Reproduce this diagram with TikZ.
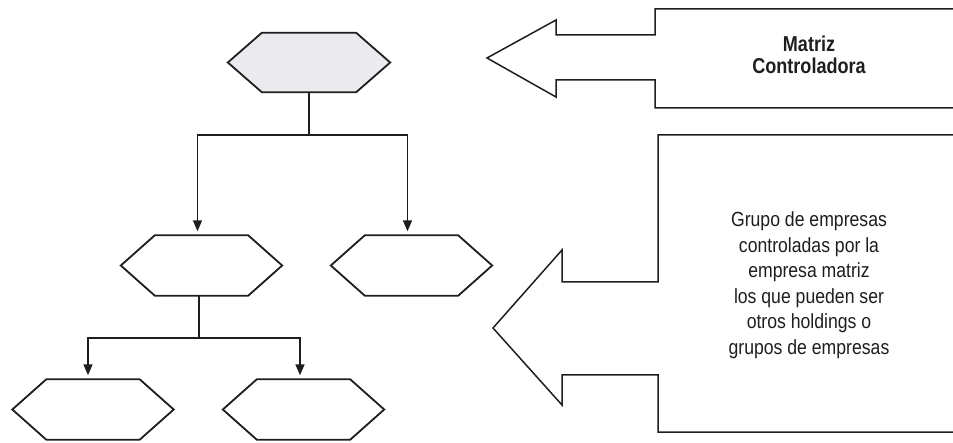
\documentclass[tikz,border=0pt]{standalone}
\usepackage{fontspec}
\setmainfont{Liberation Sans}
\newfontfamily\topfont[FakeStretch=0.84]{Liberation Sans}
\newfontfamily\bodyfont[FakeStretch=0.86]{Liberation Sans}
\usetikzlibrary{arrows.meta}
\definecolor{ink}{HTML}{1E1E1E}
\definecolor{hexfill}{HTML}{EBEBEF}
\tikzset{
  hexnode/.style={rectangle, minimum width=161pt, minimum height=60pt, inner sep=0pt, draw=none},
  hexline/.style={draw=ink, line width=1.8pt, line join=miter},
  conn/.style={draw=ink, line width=1.6pt},
  arrowconn/.style={conn, -{Triangle[width=9pt,length=11pt]}, shorten >=4pt},
  bigarrow/.style={draw=ink, line width=1.5pt, line join=miter},
  toptext/.style={align=center, text=ink, font=\topfont\bfseries\fontsize{21.5}{22}\selectfont, inner sep=0pt},
  bodytext/.style={align=center, text=ink, font=\bodyfont\fontsize{20.5}{25.5}\selectfont, inner sep=0pt}
}
\begin{document}
\begin{tikzpicture}[x=1pt, y=-1pt]
\useasboundingbox (0,0) rectangle (953,443);
% hexagon nodes
\node[hexnode, minimum width=162pt, minimum height=59pt] (top) at (309,62.5) {};
\node[hexnode] (ml) at (201.5,265.5) {};
\node[hexnode] (mr) at (411.5,265.5) {};
\node[hexnode] (bl) at (93,409.5) {};
\node[hexnode] (br) at (303.5,409.5) {};
\foreach \n/\f in {top/hexfill, ml/white, mr/white, bl/white, br/white}{
  \draw[hexline, fill=\f] (\n.west) -- ([xshift=34pt]\n.north west) -- ([xshift=-34pt]\n.north east) -- (\n.east) -- ([xshift=-34pt]\n.south east) -- ([xshift=34pt]\n.south west) -- cycle;
}
% connectors
\coordinate (j1) at (309,135);
\coordinate (j2) at (199,338);
\draw[conn] (top.south) -- (j1);
\draw[arrowconn] (j1) -| ([xshift=-4pt]ml.north);
\draw[arrowconn] (j1) -| ([xshift=-4pt]mr.north);
\draw[conn] ([xshift=-2.5pt]ml.south) -- (j2);
\draw[arrowconn] (j2) -| ([xshift=-5pt]bl.north);
\draw[arrowconn] (j2) -| ([xshift=-3.5pt]br.north);
% big arrows
\draw[bigarrow] (953,9) -- (655,9) -- (655,35) -- (556,35) -- (556,20) -- (487,58) -- (556,97) -- (556,80) -- (655,80) -- (655,108) -- (953,108);
\draw[bigarrow] (953,135) -- (658,135) -- (658,282) -- (562,282) -- (562,250) -- (493,328) -- (562,405) -- (562,375) -- (658,375) -- (658,432) -- (953,432);
% texts
\node[toptext] (t1) at (809,55) {Matriz\\Controladora};
\node[bodytext] (t2) at (809,285) {Grupo de empresas\\controladas por la\\empresa matriz\\los que pueden ser\\otros holdings o\\grupos de empresas};
\end{tikzpicture}
\end{document}
